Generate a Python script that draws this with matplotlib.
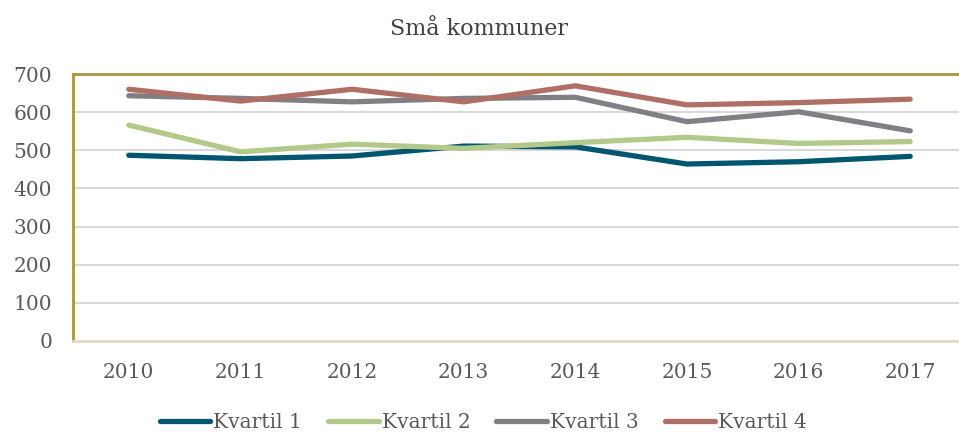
import matplotlib
matplotlib.use("Agg")
import matplotlib.pyplot as plt

years = ["2010", "2011", "2012", "2013", "2014", "2015", "2016", "2017"]
kvartil1 = [487, 478, 485, 511, 509, 464, 470, 484]
kvartil2 = [566, 496, 516, 505, 520, 534, 518, 523]
kvartil3 = [643, 636, 627, 636, 639, 575, 601, 551]
kvartil4 = [660, 629, 660, 627, 669, 619, 625, 634]
series_names = ["Kvartil 1", "Kvartil 2", "Kvartil 3", "Kvartil 4"]
colors = ["#00566f", "#b2c98a", "#7f7f84", "#b06f64"]
title = "Små kommuner"

plt.rcParams['font.family'] = ['DejaVu Serif']

fig = plt.figure(figsize=(9.59, 4.37), dpi=100)
W, H = 959, 437
left, right, top, bottom = 73, 966, 74, 341
ax = fig.add_axes([left / W, (H - bottom) / H, (right - left) / W, (bottom - top) / H])

x = list(range(len(years)))
for vals, name, c in zip([kvartil1, kvartil2, kvartil3, kvartil4], series_names, colors):
    ax.plot(x, vals, color=c, lw=3.8, label=name, solid_capstyle='round', solid_joinstyle='round')

ax.set_xlim(-0.5, len(years) - 0.5)
ax.set_ylim(0, 700)
ax.set_yticks(range(0, 701, 100))
ax.set_xticks(x)
ax.set_xticklabels(years)
ax.yaxis.grid(True, color="#d9d9d9", lw=1.5)
ax.set_axisbelow(True)
ax.tick_params(axis='both', length=0, labelsize=14.5, labelcolor="#595959")
ax.tick_params(axis='x', pad=16)
ax.tick_params(axis='y', pad=15)
for s in ['left', 'top', 'right']:
    ax.spines[s].set_color("#a8953f")
    ax.spines[s].set_linewidth(2)
ax.spines['bottom'].set_color("#e3dcc5")
ax.spines['bottom'].set_linewidth(2)

fig.text(0.5, 1 - 29 / H, title, ha='center', va='center', fontsize=16, color="#404040")

leg = fig.legend(loc='center', bbox_to_anchor=(0.504, 14 / H), ncol=4, frameon=False,
                 fontsize=14.5, handlelength=2.5, handletextpad=0.15, columnspacing=1.3)
for t in leg.get_texts():
    t.set_color("#595959")

fig.savefig("out.png", dpi=100)
